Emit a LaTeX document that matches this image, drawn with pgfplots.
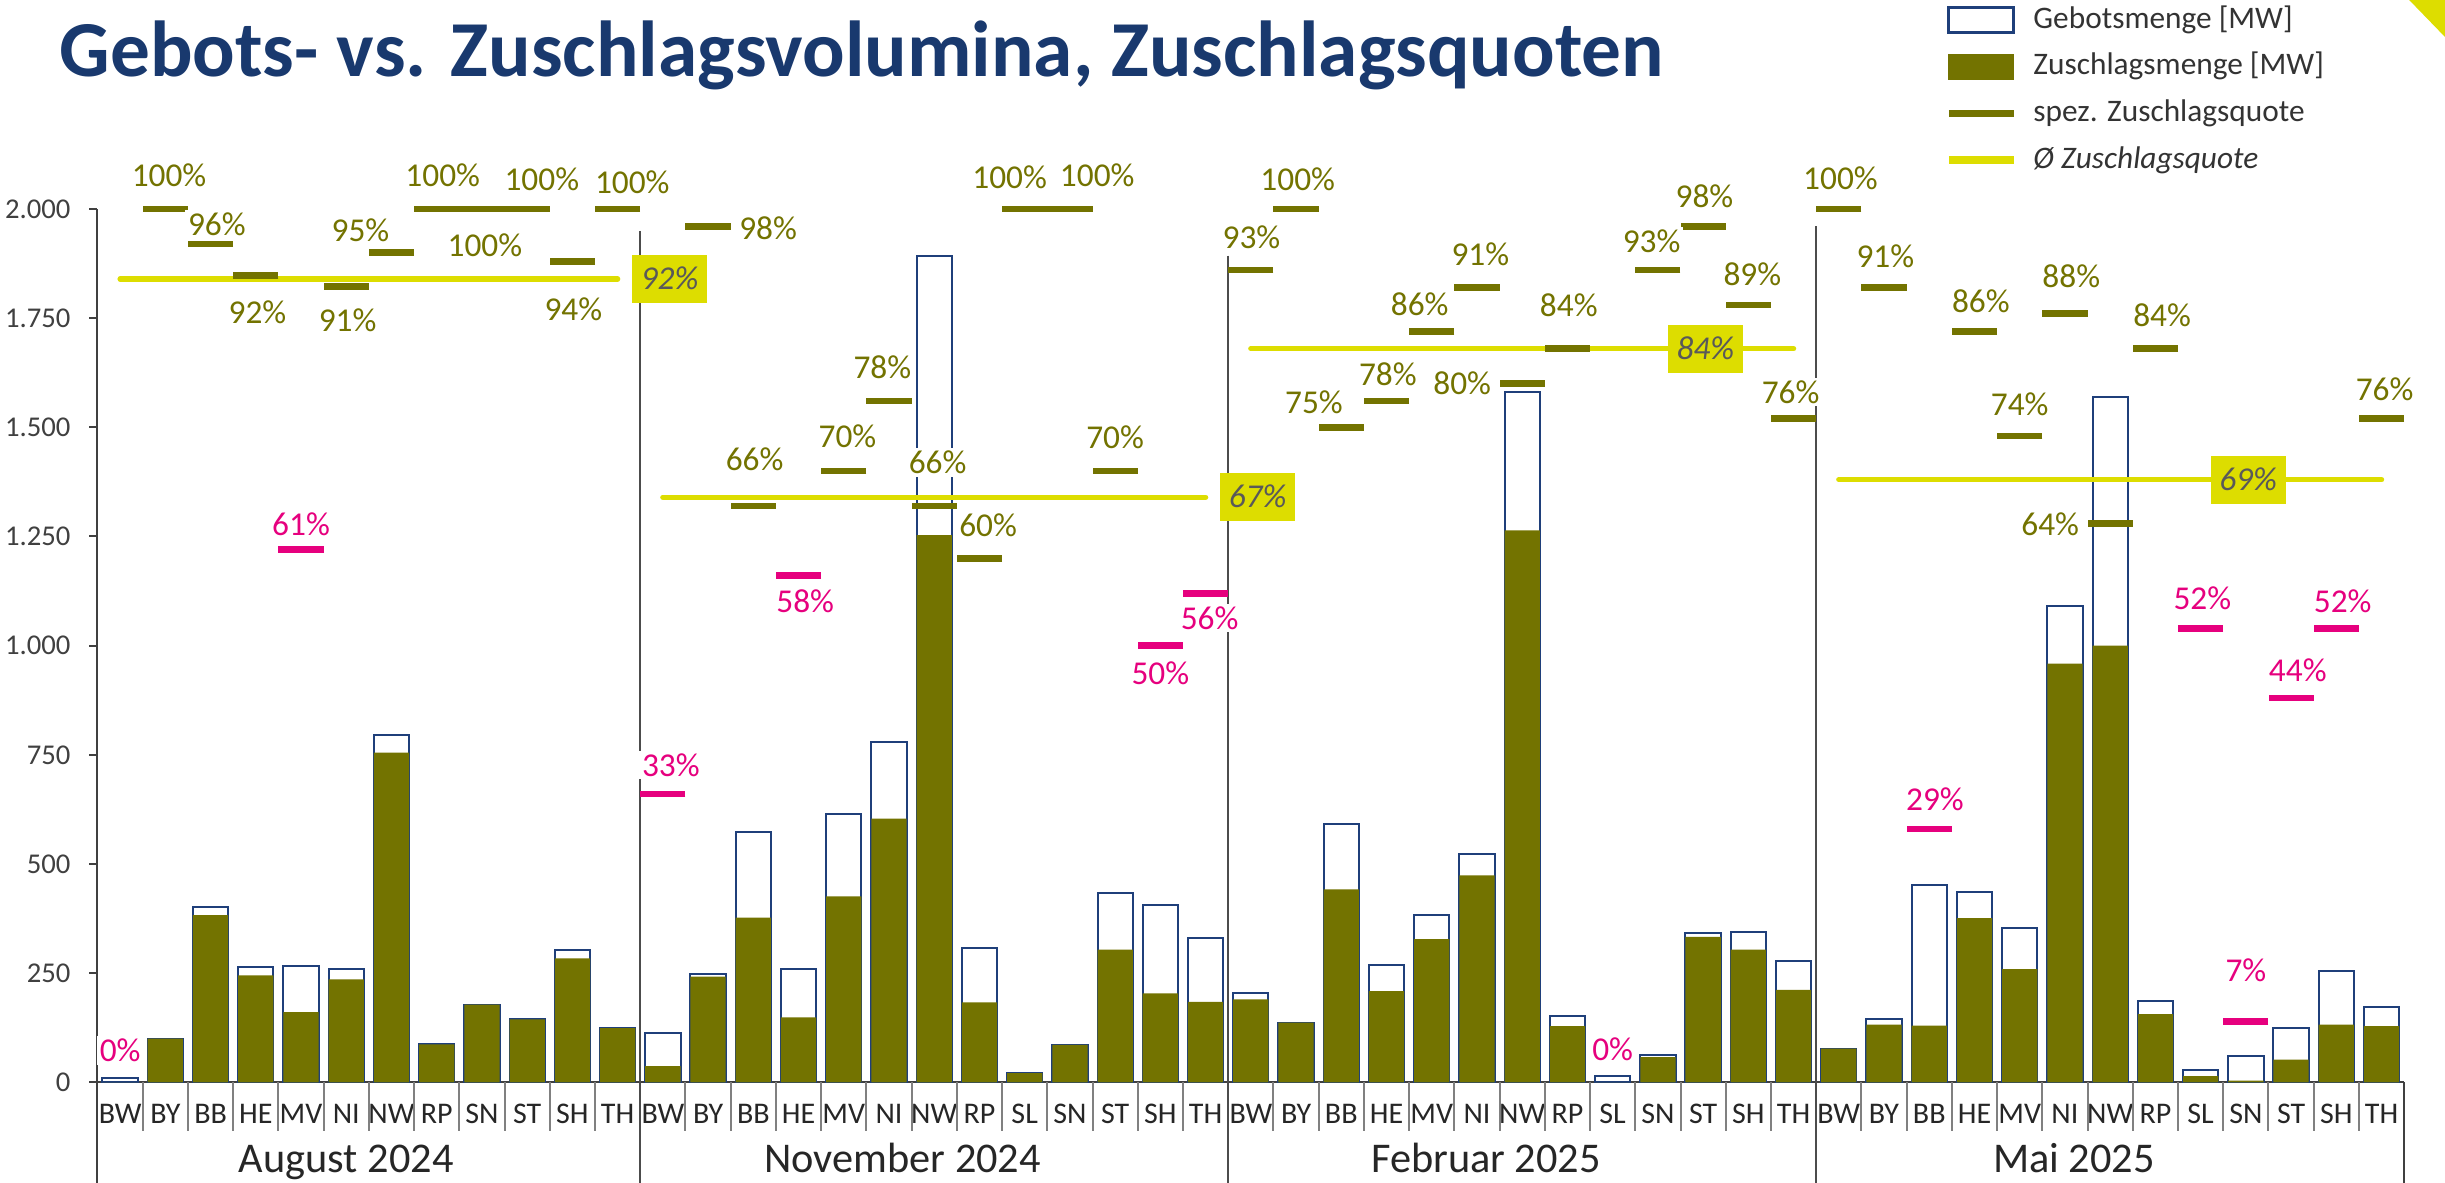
\documentclass[border=0pt]{standalone}
\usepackage{fontspec}
\setmainfont{Carlito}
\usepackage{pgfplots}
\usepackage{pgfplotstable}
\pgfplotsset{compat=1.18}

\definecolor{olivebar}{RGB}{115,115,0}
\definecolor{navyout}{RGB}{31,63,122}
\definecolor{pinkq}{RGB}{230,0,126}
\definecolor{avgyel}{RGB}{221,221,0}
\definecolor{titleblue}{RGB}{25,57,110}
\definecolor{boxtext}{RGB}{89,89,89}

% x index, Gebotsmenge, Zuschlagsmenge
\pgfplotstableread{
x geb zus
0 11 0
1 100 100
2 402 383
3 265 245
4 267 161
5 259 236
6 796 755
7 87 87
8 178 178
9 144 144
10 302 284
11 124 124
12 112 37
13 247 242
14 574 377
15 259 149
16 614 426
17 779 604
18 1893 1253
19 308 183
20 21 21
21 86 86
22 434 304
23 407 204
24 331 184
25 204 190
26 137 137
27 591 442
28 268 209
29 384 328
30 522 474
31 1582 1264
32 153 129
33 14 0
34 62 58
35 341 333
36 344 304
37 279 212
38 77 77
39 144 132
40 453 130
41 437 376
42 353 259
43 1091 959
44 1569 1000
45 187 156
46 28 14
47 60 4
48 124 52
49 255 132
50 172 129
}\bars

% spez. Zuschlagsquote (olive): x, marker height, quote, label offset dx dy (bp)
\pgfplotstableread{
x y q dx dy
1 2000 100 1.1 10.0
2 1920 96 1.9 6.0
3 1848 92 0.5 -11.0
5 1822 91 0.4 -10.2
6 1900 95 -9.3 6.8
7 2000 100 1.8 10.0
8 2000 100 0.9 -11.0
9 2000 100 4.4 9.0
10 1880 94 0.3 -14.5
11 2000 100 4.4 8.0
13 1960 98 18.0 -0.4
14 1320 66 0.4 13.9
16 1400 70 1.1 10.4
17 1560 78 -2.0 10.2
18 1320 66 1.0 13.0
19 1200 60 2.6 9.8
20 2000 100 -4.5 9.4
21 2000 100 8.2 10.0
22 1400 70 0.0 10.2
25 1860 93 0.2 9.8
26 2000 100 0.5 9.0
27 1500 75 -8.2 7.4
28 1560 78 0.4 8.2
29 1720 86 -3.6 8.2
30 1820 91 1.0 10.0
31 1600 80 -18.0 0.0
32 1680 84 0.4 13.0
34 1860 93 -1.9 8.6
35 1960 98 0.4 9.2
36 1780 89 1.2 9.2
37 1520 76 -0.9 8.0
38 2000 100 0.5 9.2
39 1820 91 0.4 9.4
41 1720 86 1.9 9.0
42 1480 74 0.0 9.6
43 1760 88 1.9 11.2
44 1280 64 -18.0 -0.4
45 1680 84 2.0 10.0
50 1520 76 0.9 8.8
}\oliveq

% spez. Zuschlagsquote (pink)
\pgfplotstableread{
x y q dx dy
4 1220 61 0.0 7.6
12 660 33 2.4 8.8
15 1160 58 2.0 -7.6
23 1000 50 0.0 -8.4
24 1120 56 1.2 -7.4
40 580 29 1.7 8.8
46 1040 52 0.5 9.0
47 140 7 0.0 15.3
48 880 44 2.0 8.4
49 1040 52 1.9 8.0
}\pinkq

% 0 % quotes (label only)
\pgfplotstableread{
x y q dx dy
0 0 0 0.0 9.5
33 0 0 0.0 9.8
}\zeroq

% average quote per round: box position
\pgfplotstableread{
x y q
12.15 1840 92
25.15 1340 67
35.05 1680 84
47.05 1380 69
}\avgbox

\pgfplotsset{
  quotelabel/.style={draw=none, mark=none, forget plot,
    point meta=explicit symbolic,
    nodes near coords={\pgfplotspointmeta\%},
    every node near coord/.append style={anchor=center,
      font=\fontsize{10bp}{12bp}\selectfont, text=#1, fill=white, inner sep=0.8bp}},
}

\begin{document}
\begin{tikzpicture}
\useasboundingbox (-29.25bp,-30bp) rectangle (704.25bp,324.7bp);
\begin{axis}[
  scale only axis, width=692bp, height=262bp,
  xmin=-0.5, xmax=50.5, ymin=0, ymax=2000,
  axis lines*=left,
  axis line style={black!75, line width=0.6bp},
  clip=false,
  xtick={0,...,50},
  xticklabels={BW,BY,BB,HE,MV,NI,NW,RP,SN,ST,SH,TH,
               BW,BY,BB,HE,MV,NI,NW,RP,SL,SN,ST,SH,TH,
               BW,BY,BB,HE,MV,NI,NW,RP,SL,SN,ST,SH,TH,
               BW,BY,BB,HE,MV,NI,NW,RP,SL,SN,ST,SH,TH},
  xtick style={draw=none},
  ytick={0,250,...,2000},
  ytick style={black!75, line width=0.6bp},
  tick align=outside, major tick length=2.5bp,
  extra x ticks={-0.5,0.5,...,50.5},
  extra x tick labels={},
  extra x tick style={major tick length=14.5bp, xtick style={draw=black!50, line width=0.6bp}},
  scaled y ticks=false,
  /pgf/number format/1000 sep={.},
  /pgf/number format/assume math mode=true,
  yticklabel style={anchor=east, inner sep=0pt, xshift=-5.4bp,
    font=\fontsize{8.6bp}{10bp}\selectfont, text=black!75},
  xticklabel style={anchor=base, inner sep=0pt, yshift=-9.8bp,
    font=\fontsize{9bp}{11bp}\selectfont, text=black!85},
  legend style={draw=none, fill=none, at={(rel axis cs:0.8010,1.2328)}, anchor=north west,
    inner sep=0pt, outer sep=0pt, row sep=5.4bp, column sep=4.8bp,
    font=\fontsize{9.4bp}{11bp}\selectfont, text=black!80,
    nodes={inner sep=0pt, text height=6.7bp, text depth=1.9bp}},
  legend cell align=left,
]
% bars
\addplot[ybar, bar width=0.78, bar shift=0pt, fill=white, draw=navyout, line width=0.6bp, forget plot]
  table[x=x, y=geb] {\bars};
\addplot[ybar, bar width=0.78, bar shift=0pt, fill=olivebar, draw=none, forget plot]
  table[x=x, y=zus] {\bars};

% average lines
\addplot[avgyel, line width=1.6bp, line cap=round, forget plot] coordinates {(0,1840) (11,1840)};
\addplot[avgyel, line width=1.6bp, line cap=round, forget plot] coordinates {(12,1340) (24,1340)};
\addplot[avgyel, line width=1.6bp, line cap=round, forget plot] coordinates {(25,1680) (37,1680)};
\addplot[avgyel, line width=1.6bp, line cap=round, forget plot] coordinates {(38,1380) (50,1380)};

% specific quotes: markers
\addplot[only marks, mark=-, mark size=6.78bp, mark options={line width=2bp, draw=olivebar, line cap=butt}, forget plot]
  table[x=x, y=y] {\oliveq};
\addplot[only marks, mark=-, mark size=6.78bp, mark options={line width=2bp, draw=pinkq, line cap=butt}, forget plot]
  table[x=x, y=y] {\pinkq};
% labels (offset in bp: 13.57bp per category, 262bp per 2000)
\addplot[quotelabel=olivebar]
  table[x expr=\thisrow{x}+\thisrow{dx}/13.57, y expr=\thisrow{y}+\thisrow{dy}*7.634, meta=q] {\oliveq};
\addplot[quotelabel=pinkq]
  table[x expr=\thisrow{x}+\thisrow{dx}/13.57, y expr=\thisrow{y}+\thisrow{dy}*7.634, meta=q] {\pinkq};
\addplot[quotelabel=pinkq]
  table[x expr=\thisrow{x}+\thisrow{dx}/13.57, y expr=\thisrow{y}+\thisrow{dy}*7.634, meta=q] {\zeroq};

% average boxes
\addplot[draw=none, mark=none, forget plot,
  point meta=explicit symbolic,
  nodes near coords={\itshape\pgfplotspointmeta\%},
  every node near coord/.append style={anchor=center, fill=avgyel, text=boxtext,
    inner xsep=2.6bp, inner ysep=3.8bp, text height=6.5bp, text depth=0.2bp,
    font=\fontsize{10bp}{12bp}\selectfont}]
  table[x=x, y=y, meta=q] {\avgbox};

% separators
\draw[black!70, line width=0.6bp] (axis cs:11.5,1950) -- (axis cs:11.5,0) -- ++(0bp,-31bp);
\draw[black!70, line width=0.6bp] (axis cs:24.5,1893) -- (axis cs:24.5,0) -- ++(0bp,-31bp);
\draw[black!70, line width=0.6bp] (axis cs:37.5,1960) -- (axis cs:37.5,0) -- ++(0bp,-31bp);
\draw[black!75, line width=0.6bp] (axis cs:-0.5,0) -- ++(0bp,-31bp);
\draw[black!75, line width=0.6bp] (axis cs:50.5,0) -- ++(0bp,-31bp);

% group labels
\node[anchor=base, yshift=-27bp, inner sep=0pt, font=\fontsize{12.7bp}{15bp}\selectfont, text=black!85] at (axis cs:5.0,0) {August 2024};
\node[anchor=base, yshift=-27bp, inner sep=0pt, font=\fontsize{12.7bp}{15bp}\selectfont, text=black!85] at (axis cs:17.3,0) {November 2024};
\node[anchor=base, yshift=-27bp, inner sep=0pt, font=\fontsize{12.7bp}{15bp}\selectfont, text=black!85] at (axis cs:30.2,0) {Februar 2025};
\node[anchor=base, yshift=-27bp, inner sep=0pt, font=\fontsize{12.7bp}{15bp}\selectfont, text=black!85] at (axis cs:43.2,0) {Mai 2025};

% legend
\addlegendimage{legend image code/.code={\draw[draw=navyout, fill=white, line width=0.8bp] (0bp,-3.7bp) rectangle (19.5bp,3.7bp);}}
\addlegendentry{Gebotsmenge [MW]}
\addlegendimage{legend image code/.code={\fill[olivebar] (0bp,-3.7bp) rectangle (19.5bp,3.7bp);}}
\addlegendentry{Zuschlagsmenge [MW]}
\addlegendimage{legend image code/.code={\draw[olivebar, line width=2.2bp] (0bp,0bp) -- (19.5bp,0bp);}}
\addlegendentry{spez. Zuschlagsquote}
\addlegendimage{legend image code/.code={\draw[avgyel, line width=2.2bp] (0bp,0bp) -- (19.5bp,0bp);}}
\addlegendentry{\itshape Ø Zuschlagsquote}
\end{axis}
\node[anchor=base west, inner sep=0pt, font=\fontsize{23.8bp}{28bp}\selectfont\bfseries, text=titleblue]
  at (-11.55bp,301.6bp) {Gebots- vs. Zuschlagsvolumina, Zuschlagsquoten};
\fill[avgyel] (693.5bp,324.7bp) -- (704.25bp,324.7bp) -- (704.25bp,313.6bp) -- cycle;
\end{tikzpicture}
\end{document}
